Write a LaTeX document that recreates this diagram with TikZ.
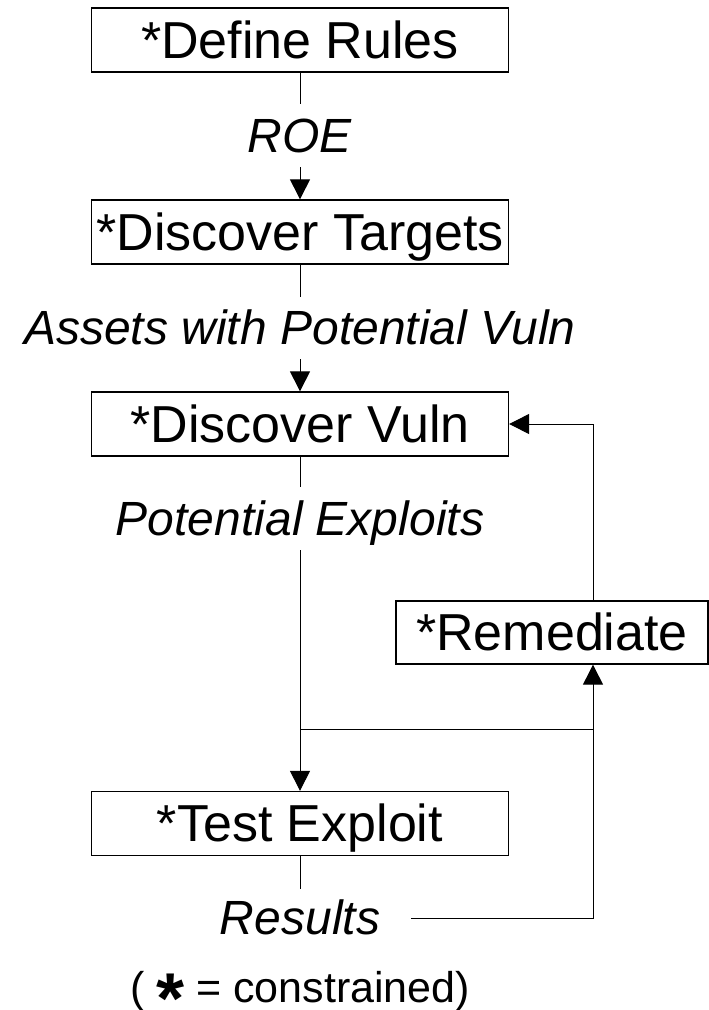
\documentclass[tikz,border=0pt]{standalone}
\usepackage{fontspec}
\setmainfont{Liberation Sans}
\usetikzlibrary{arrows.meta}
\begin{document}
\begin{tikzpicture}[x=1pt,y=-1pt,
  box/.style={draw, line width=1.3pt, minimum width=417pt, minimum height=64pt, inner sep=0pt,
    font=\fontsize{52}{60}\selectfont, text height=41.6pt, text depth=5.2pt},
  lbl/.style={inner sep=0pt, font=\fontsize{48}{56}\selectfont\itshape, text height=38.4pt, text depth=4.8pt},
  conn/.style={line width=1pt},
  arr/.style={conn, -{Triangle[length=20pt,width=20pt]}}]
\useasboundingbox (0,0) rectangle (709,1010);
\node[box] (dr) at (300,40) {*Define Rules};
\node[lbl, minimum height=63pt] (roe) at (300,135.5) {ROE};
\node[box] (dt) at (300,232) {*Discover Targets};
\node[lbl, minimum height=62pt] (av) at (300,328) {Assets with Potential Vuln};
\node[box] (dv) at (300,424) {*Discover Vuln};
\node[lbl, minimum height=63pt] (pe) at (300,518.5) {Potential Exploits};
\node[box, minimum width=312pt, minimum height=63pt] (rem) at (552,632.5) {*Remediate};
\node[box] (te) at (300,823.5) {*Test Exploit};
\node[lbl, minimum height=58pt, minimum width=222pt] (res) at (300,918) {Results};
\coordinate (rx) at (593,0);
\coordinate (jl) at (300,729);
\coordinate (jr) at (593,729);
\node[font=\fontsize{43}{50}\selectfont, anchor=base, inner sep=0pt] (leg) at (300,1002)
  {( \raisebox{-21pt}{\fontsize{72}{72}\selectfont\bfseries *} = constrained)};
\draw[conn] (dr) -- (roe);
\draw[arr] (roe) -- (dt);
\draw[conn] (dt) -- (av);
\draw[arr] (av) -- (dv);
\draw[conn] (dv) -- (pe);
\draw[arr] (pe) -- (te);
\draw[conn] (jl) -- (jr);
\draw[conn] (te) -- (res);
\draw[arr] (res.east) -| (rem.south -| rx);
\draw[arr] (rem.north -| rx) |- (dv.east);
\end{tikzpicture}
\end{document}
